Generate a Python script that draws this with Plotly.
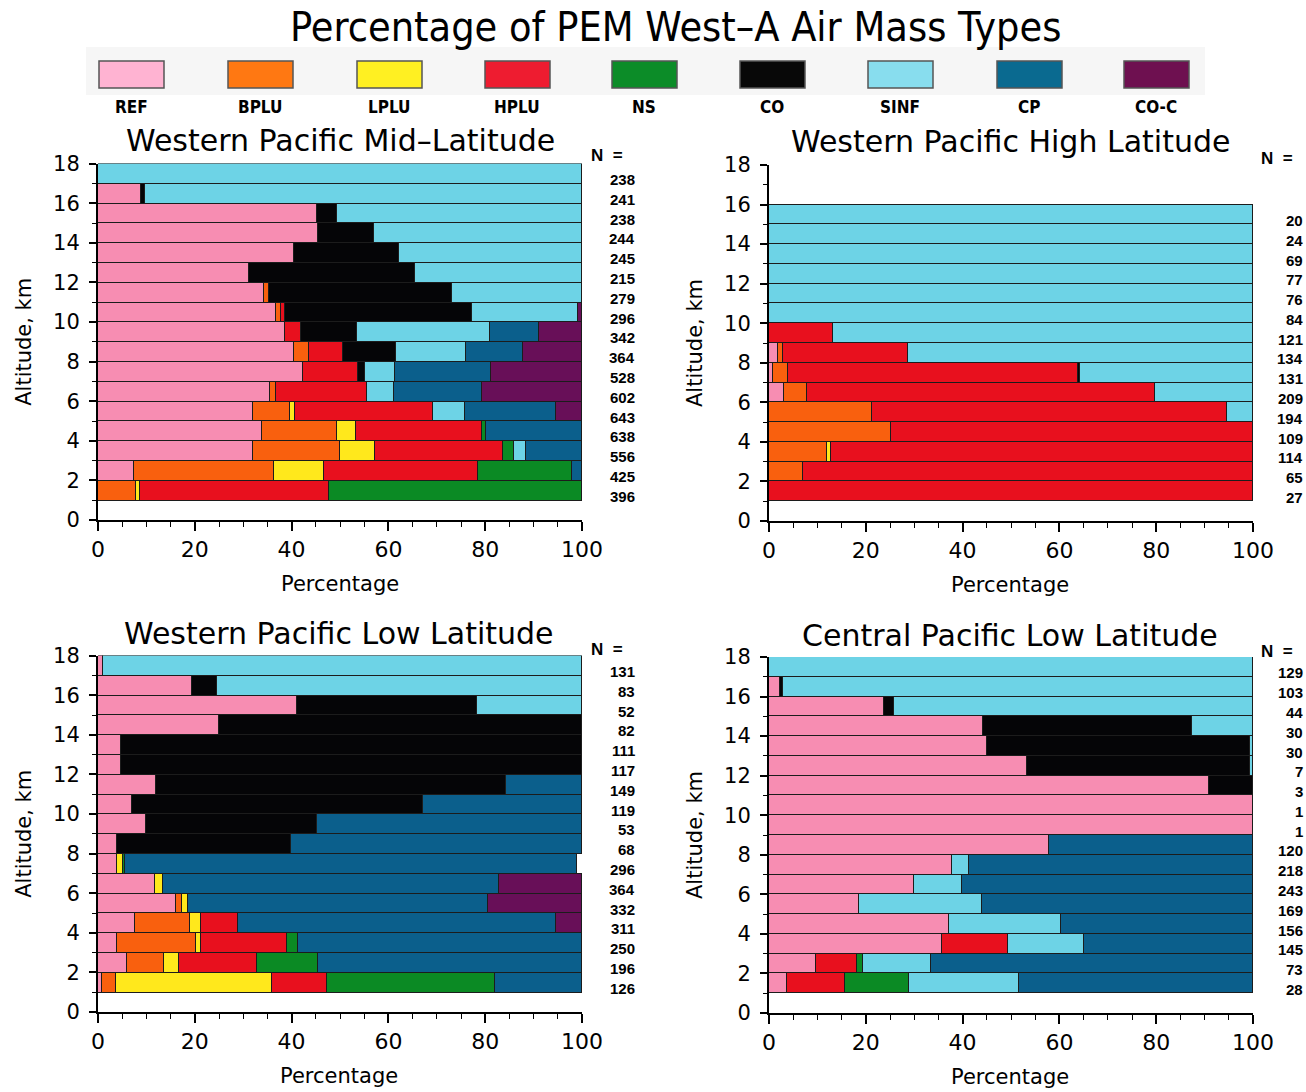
import plotly.graph_objects as go

W, H = 1306, 1092

CATS = ["REF", "BPLU", "LPLU", "HPLU", "NS", "CO", "SINF", "CP", "CO-C"]
BAR_COLORS = ["#F78DB2", "#F9600E", "#FFE81C", "#E8101E", "#0B8A24",
              "#050507", "#6DD3E6", "#0B5F8C", "#680F58"]
LEGEND_COLORS = ["#FFB3D2", "#FF7812", "#FFF022", "#EE1C30", "#0C8C28",
                 "#080808", "#88DDEE", "#0A6A90", "#6E1050"]

# ---- Western Pacific Mid-Latitude (altitude bins 1-2 ... 17-18 km, bottom to top)
ML_REF  = [0, 7.5, 32.1, 33.8, 32.1, 35.5, 42.4, 40.5, 38.6, 36.7, 34.3, 31.3, 40.5, 45.4, 45.2, 8.9, 0]
ML_BPLU = [7.9, 28.9, 17.9, 15.5, 7.6, 1.3, 0, 3.0, 0, 1.1, 1.0, 0, 0, 0, 0, 0, 0]
ML_LPLU = [0.8, 10.2, 7.2, 4.1, 1.0, 0, 0, 0, 0, 0, 0, 0, 0, 0, 0, 0, 0]
ML_HPLU = [39.1, 32.0, 26.4, 26.0, 28.6, 18.8, 11.4, 7.2, 3.3, 0.8, 0, 0, 0, 0, 0, 0, 0]
ML_NS   = [52.2, 19.4, 2.3, 0.7, 0, 0, 0, 0, 0, 0, 0, 0, 0, 0, 0, 0, 0]
ML_CO   = [0, 0, 0, 0, 0, 0, 1.4, 10.8, 11.7, 38.6, 37.9, 34.1, 21.7, 11.6, 4.1, 0.8, 0]
ML_SINF = [0, 0, 2.5, 0, 6.5, 5.6, 6.2, 14.5, 27.3, 22.0, 26.8, 34.6, 37.8, 43.0, 50.7, 90.3, 100]
ML_CP   = [0, 2.0, 11.6, 19.9, 18.8, 18.1, 19.7, 11.9, 10.3, 0, 0, 0, 0, 0, 0, 0, 0]
ML_COC  = [0, 0, 0, 0, 5.4, 20.7, 18.9, 12.1, 8.8, 0.8, 0, 0, 0, 0, 0, 0, 0]
ML_N    = [396, 425, 556, 638, 643, 602, 528, 364, 342, 296, 279, 215, 245, 244, 238, 241, 238]

# ---- Western Pacific High Latitude (1-2 ... 15-16 km)
HL_REF  = [0, 0, 0, 0, 0, 3.1, 0.9, 1.9, 0, 0, 0, 0, 0, 0, 0]
HL_BPLU = [0, 7.0, 11.9, 25.2, 21.2, 4.7, 3.1, 1.0, 0, 0, 0, 0, 0, 0, 0]
HL_LPLU = [0, 0, 1.0, 0, 0, 0, 0, 0, 0, 0, 0, 0, 0, 0, 0]
HL_HPLU = [100, 93.0, 87.1, 74.8, 73.5, 71.9, 59.8, 25.9, 13.2, 0, 0, 0, 0, 0, 0]
HL_NS   = [0] * 15
HL_CO   = [0, 0, 0, 0, 0, 0, 0.4, 0, 0, 0, 0, 0, 0, 0, 0]
HL_SINF = [0, 0, 0, 0, 5.3, 20.3, 35.8, 71.2, 86.8, 100, 100, 100, 100, 100, 100]
HL_CP   = [0] * 15
HL_COC  = [0] * 15
HL_N    = [27, 65, 114, 109, 194, 209, 131, 134, 121, 84, 76, 77, 69, 24, 20]

# ---- Western Pacific Low Latitude (1-2 ... 17-18 km)
LL_REF  = [0.8, 5.9, 3.9, 7.6, 16.1, 11.8, 4.0, 3.9, 9.9, 7.1, 11.9, 4.7, 4.7, 25.0, 41.2, 19.4, 1.0]
LL_BPLU = [2.9, 7.7, 16.3, 11.5, 1.2, 0, 0, 0, 0, 0, 0, 0, 0, 0, 0, 0, 0]
LL_LPLU = [32.2, 3.2, 1.1, 2.1, 1.2, 1.7, 1.1, 0, 0, 0, 0, 0, 0, 0, 0, 0, 0]
LL_HPLU = [11.5, 16.0, 17.8, 7.8, 0, 0, 0, 0, 0, 0, 0, 0, 0, 0, 0, 0, 0]
LL_NS   = [34.6, 12.6, 2.3, 0, 0, 0, 0.5, 0, 0, 0, 0, 0, 0, 0, 0, 0, 0]
LL_CO   = [0, 0, 0, 0, 0, 0, 0, 35.9, 35.3, 60.1, 72.3, 95.3, 95.3, 75.0, 37.2, 5.1, 0]
LL_SINF = [0, 0, 0, 0, 0, 0, 0, 0, 0, 0, 0, 0, 0, 0, 21.6, 75.5, 99.0]
LL_CP   = [18.0, 54.6, 58.6, 65.6, 62.1, 69.4, 93.4, 60.2, 54.8, 32.8, 15.8, 0, 0, 0, 0, 0, 0]
LL_COC  = [0, 0, 0, 5.4, 19.4, 17.1, 0, 0, 0, 0, 0, 0, 0, 0, 0, 0, 0]
LL_N    = [126, 196, 250, 311, 332, 364, 296, 68, 53, 119, 149, 117, 111, 82, 52, 83, 131]

# ---- Central Pacific Low Latitude (1-2 ... 17-18 km)
CL_REF  = [3.7, 9.7, 35.8, 37.1, 18.6, 29.9, 37.8, 57.8, 100, 100, 90.9, 53.4, 45.0, 44.2, 23.7, 2.2, 0]
CL_BPLU = [0] * 17
CL_LPLU = [0] * 17
CL_HPLU = [12.1, 8.5, 13.5, 0, 0, 0, 0, 0, 0, 0, 0, 0, 0, 0, 0, 0, 0]
CL_NS   = [13.2, 1.3, 0, 0, 0, 0, 0, 0, 0, 0, 0, 0, 0, 0, 0, 0, 0]
CL_CO   = [0, 0, 0, 0, 0, 0, 0, 0, 0, 0, 9.1, 45.9, 54.3, 43.2, 2.2, 0.7, 0]
CL_SINF = [22.6, 14.0, 15.7, 23.3, 25.5, 9.9, 3.6, 0, 0, 0, 0, 0.7, 0.7, 12.6, 74.1, 97.1, 100]
CL_CP   = [48.4, 66.5, 35.0, 39.6, 55.9, 60.2, 58.6, 42.2, 0, 0, 0, 0, 0, 0, 0, 0, 0]
CL_COC  = [0] * 17
CL_N    = [28, 73, 145, 156, 169, 243, 218, 120, 1, 1, 3, 7, 30, 30, 44, 103, 129]

X_TICKS = [0, 20, 40, 60, 80, 100]
Y_TICKS = [0, 2, 4, 6, 8, 10, 12, 14, 16, 18]


def px(x):
    return x / W


def py(y):
    return 1 - y / H


PANELS = [
    dict(sfx="", title="Western Pacific Mid\u2013Latitude",
         data=[ML_REF, ML_BPLU, ML_LPLU, ML_HPLU, ML_NS, ML_CO, ML_SINF, ML_CP, ML_COC],
         n=ML_N, x0=98, x1=582, y0=520, y18=163.6, tcx=340, tcy=140, nx=637, ncx=607, ncy=156),
    dict(sfx="2", title="Western Pacific High Latitude",
         data=[HL_REF, HL_BPLU, HL_LPLU, HL_HPLU, HL_NS, HL_CO, HL_SINF, HL_CP, HL_COC],
         n=HL_N, x0=769, x1=1253, y0=521, y18=165, tcx=1010, tcy=142, nx=1305, ncx=1277, ncy=158),
    dict(sfx="3", title="Western Pacific Low Latitude",
         data=[LL_REF, LL_BPLU, LL_LPLU, LL_HPLU, LL_NS, LL_CO, LL_SINF, LL_CP, LL_COC],
         n=LL_N, x0=98, x1=582, y0=1012, y18=655.6, tcx=339, tcy=633, nx=637, ncx=607, ncy=649),
    dict(sfx="4", title="Central Pacific Low Latitude",
         data=[CL_REF, CL_BPLU, CL_LPLU, CL_HPLU, CL_NS, CL_CO, CL_SINF, CL_CP, CL_COC],
         n=CL_N, x0=769, x1=1253, y0=1013, y18=657, tcx=1010, tcy=635, nx=1305, ncx=1277, ncy=651),
]

FONT = "DejaVu Sans"
NARROW = "Liberation Sans Narrow, DejaVu Sans Condensed, Liberation Sans, sans-serif"

fig = go.Figure()
annotations = []
shapes = []
layout_axes = {}

for p in PANELS:
    sfx = p["sfx"]
    nrows = len(p["n"])
    centers = [i + 1.5 for i in range(nrows)]
    for cat, col, vals in zip(CATS, BAR_COLORS, p["data"]):
        xv = [v if v > 0 else None for v in vals]
        fig.add_trace(go.Bar(
            x=xv, y=centers, orientation="h", width=1,
            marker=dict(color=col, line=dict(color="#1c1c1c", width=1)),
            name=cat, showlegend=False, hoverinfo="skip",
            xaxis="x" + sfx, yaxis="y" + sfx))
    layout_axes["xaxis" + sfx] = dict(
        domain=[px(p["x0"]), px(p["x1"])], anchor="y" + sfx, range=[0, 100],
        tickvals=X_TICKS, ticktext=[str(t) for t in X_TICKS],
        showline=True, linecolor="black", linewidth=2, mirror=False,
        ticks="outside", ticklen=9, tickwidth=2, tickcolor="black",
        minor=dict(dtick=5, ticks="outside", ticklen=5, tickwidth=1, tickcolor="black"),
        showgrid=False, zeroline=False, automargin=False,
        tickfont=dict(family=FONT, size=22, color="black"))
    layout_axes["yaxis" + sfx] = dict(
        domain=[py(p["y0"]), py(p["y18"])], anchor="x" + sfx, range=[0, 18],
        tickvals=Y_TICKS, ticktext=[str(t) for t in Y_TICKS],
        showline=True, linecolor="black", linewidth=2,
        ticks="outside", ticklen=7, tickwidth=2, tickcolor="black",
        minor=dict(dtick=1, ticks="outside", ticklen=4, tickwidth=1, tickcolor="black"),
        showgrid=False, zeroline=False, automargin=False, ticklabelstandoff=5,
        tickfont=dict(family=FONT, size=21, color="black"))
    annotations.append(dict(text=p["title"], x=px(p["tcx"]), y=py(p["tcy"]),
                            xref="paper", yref="paper", showarrow=False,
                            xanchor="center", yanchor="middle",
                            font=dict(family=FONT, size=30, color="black")))
    annotations.append(dict(text="Percentage", x=px(p["tcx"]), y=py(p["y0"] + 64),
                            xref="paper", yref="paper", showarrow=False,
                            xanchor="center", yanchor="middle",
                            font=dict(family=FONT, size=21, color="black")))
    annotations.append(dict(text="Altitude, km", x=px(p["x0"] - 74),
                            y=py((p["y0"] + p["y18"]) / 2),
                            xref="paper", yref="paper", showarrow=False, textangle=-90,
                            xanchor="center", yanchor="middle",
                            font=dict(family=FONT, size=21, color="black")))
    annotations.append(dict(text="<b>N  =</b>", x=px(p["ncx"]), y=py(p["ncy"]),
                            xref="paper", yref="paper", showarrow=False,
                            xanchor="center", yanchor="middle",
                            font=dict(family="Liberation Sans", size=17, color="black")))
    for c, nval in zip(centers, p["n"]):
        annotations.append(dict(text="<b>%d</b>" % nval, x=px(p["nx"]), y=c,
                                xref="paper", yref="y" + sfx, showarrow=False,
                                xanchor="right", yanchor="middle", yshift=-6,
                                font=dict(family="Liberation Sans", size=15, color="black")))

annotations.append(dict(text="Percentage of PEM West\u2013A Air Mass Types",
                        x=px(675), y=py(27), xref="paper", yref="paper", showarrow=False,
                        xanchor="center", yanchor="middle",
                        font=dict(family=NARROW, size=41, color="black")))

shapes.append(dict(type="rect", xref="paper", yref="paper",
                   x0=px(86), x1=px(1205), y0=py(95), y1=py(47),
                   fillcolor="#F6F6F6", line=dict(width=0), layer="below"))
LEG_X = [99, 228, 357, 485, 612, 740, 868, 997, 1124]
for cat, col, lx in zip(CATS, LEGEND_COLORS, LEG_X):
    shapes.append(dict(type="rect", xref="paper", yref="paper",
                       x0=px(lx), x1=px(lx + 65), y0=py(88), y1=py(61),
                       fillcolor=col, line=dict(color="#555555", width=1.5)))
    annotations.append(dict(text="<b>%s</b>" % cat, x=px(lx + 32), y=py(107),
                            xref="paper", yref="paper",
                            showarrow=False, xanchor="center", yanchor="middle",
                            font=dict(family=NARROW, size=17, color="black")))

fig.update_layout(
    width=W, height=H, margin=dict(l=0, r=0, t=0, b=0, autoexpand=False),
    paper_bgcolor="white", plot_bgcolor="white",
    barmode="stack", bargap=0,
    annotations=annotations, shapes=shapes,
    **layout_axes)

fig.write_html("out.html")
